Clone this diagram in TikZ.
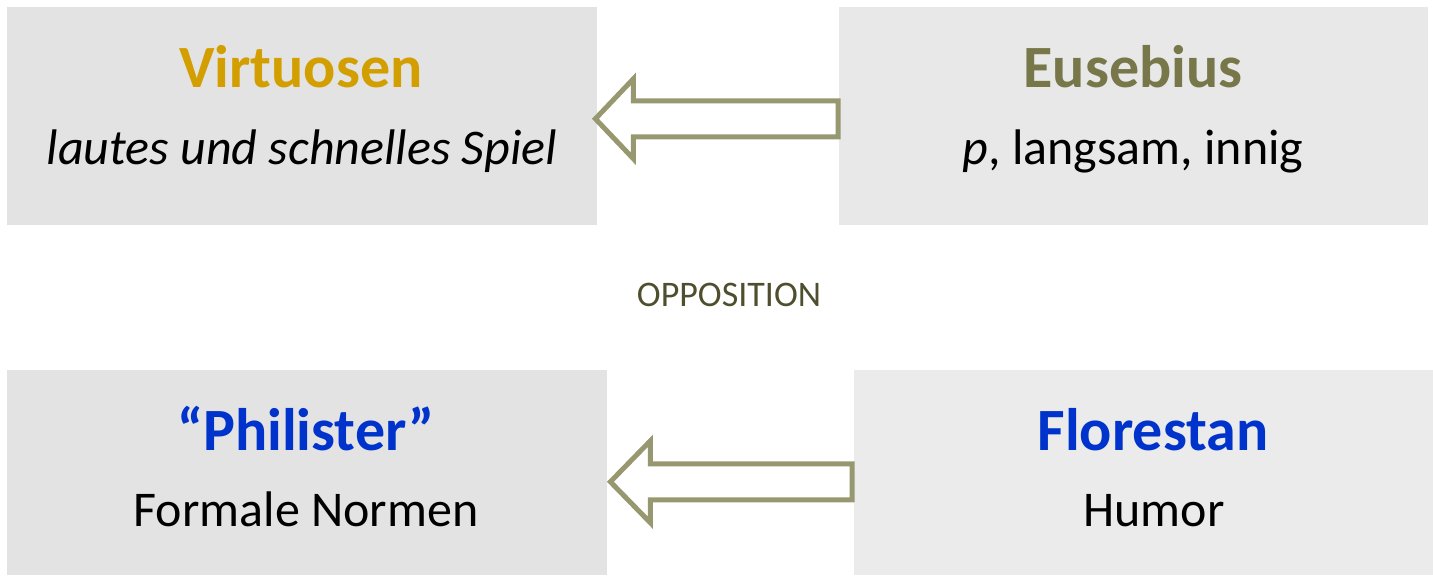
\documentclass[tikz,border=0pt]{standalone}
\usepackage{fontspec}
\setmainfont{Carlito}
\usetikzlibrary{calc}
\definecolor{boxA}{HTML}{E3E3E3}
\definecolor{boxB}{HTML}{E8E8E8}
\definecolor{boxC}{HTML}{EBEBEB}
\definecolor{gold}{HTML}{D29E00}
\definecolor{olive}{HTML}{77774A}
\definecolor{blueT}{HTML}{0033CC}
\definecolor{oppo}{HTML}{4F4F2F}
\definecolor{arr}{HTML}{989870}
\tikzset{
  panel/.style={rectangle, draw=none, inner sep=0pt, anchor=south west},
  title/.style={anchor=base, inner sep=0pt, font=\fontsize{60}{64}\selectfont\bfseries},
  sub/.style={anchor=base, inner sep=0pt, font=\fontsize{50}{54}\selectfont},
  bigarrow/.style={draw=arr, line width=5pt, line join=miter, fill=white},
}
\begin{document}
\begin{tikzpicture}[x=1pt,y=1pt]
\useasboundingbox (0,0) rectangle (1433,576);
\node[panel, fill=boxA, minimum width=590pt, minimum height=218pt] (virt) at (7,351) {};
\node[panel, fill=boxB, minimum width=589pt, minimum height=218pt] (eus) at (839,351) {};
\node[panel, fill=boxA, minimum width=600pt, minimum height=205pt] (phil) at (7,1) {};
\node[panel, fill=boxC, minimum width=579pt, minimum height=205pt] (flor) at (854,1) {};

\node[title, text=gold] (virtT) at (301,488) {Virtuosen};
\node[sub] (virtS) at (302,411) {\itshape lautes und schnelles Spiel};
\node[title, text=olive] (eusT) at (1133,488) {Eusebius};
\node[sub] (eusS) at (1133,411) {\textit{p}, langsam, innig};
\node[title, text=blueT] (philT) at (306,125) {“Philister”};
\node[sub] (philS) at (306,49) {Formale Normen};
\node[title, text=blueT] (florT) at (1153,125) {Florestan};
\node[sub] (florS) at (1154,49) {Humor};

\node[anchor=base, inner sep=0pt, text=oppo, font=\fontsize{36}{40}\selectfont] (opp) at (729,269) {OPPOSITION};

% top arrow
\coordinate (t1) at ($(virt.east)+(-2,-3)$);
\coordinate (s1) at (eus.west |- t1);
\draw[bigarrow] (t1) -- ++(38,40) -- ++(0,-22) -- ($(s1)+(-1,18)$) -- ($(s1)+(-1,-18)$) -- ($(t1)+(38,-18)$) -- ++(0,-22) -- cycle;

% bottom arrow
\coordinate (t2) at ($(phil.east)+(3,-9.5)$);
\coordinate (s2) at (flor.west |- t2);
\draw[bigarrow] (t2) -- ++(40,41) -- ++(0,-23) -- ($(s2)+(-2,18)$) -- ($(s2)+(-2,-18)$) -- ($(t2)+(40,-18)$) -- ++(0,-23) -- cycle;
\end{tikzpicture}
\end{document}
